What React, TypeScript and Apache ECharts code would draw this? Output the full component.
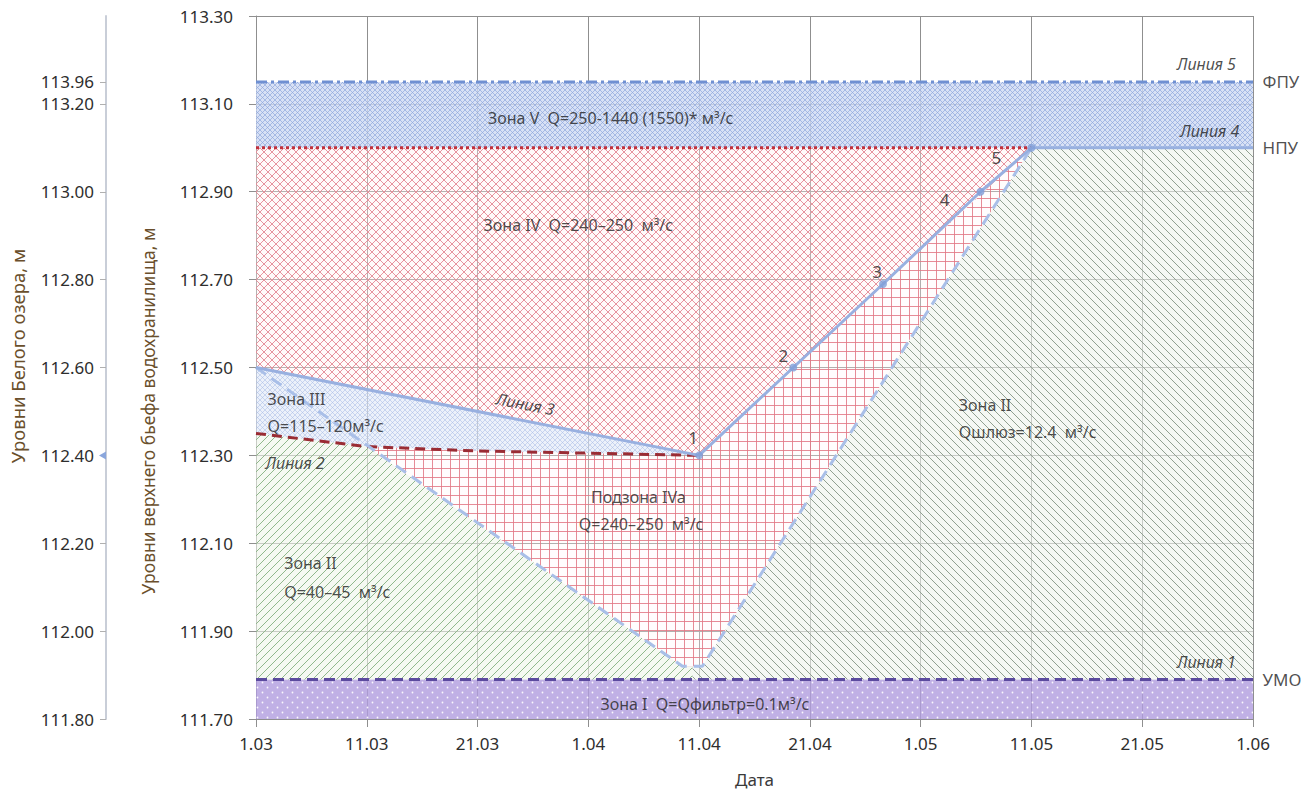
import React, { useEffect, useRef } from "react";
import * as echarts from "echarts";

// ---------- data ----------
const xLabels = ["1.03", "11.03", "21.03", "1.04", "11.04", "21.04", "1.05", "11.05", "21.05", "1.06"];
const yMainTicks = [111.7, 111.9, 112.1, 112.3, 112.5, 112.7, 112.9, 113.1, 113.3];
const yLeftTicks = [111.8, 112.0, 112.2, 112.4, 112.6, 112.8, 113.0, 113.2];
const yLeftExtraValue = 113.25;
const yLeftExtraLabel = "113.96";
const leftMarkerLevel = 112.4;

const umoLevel = 111.79;
const npuLevel = 113.0;
const fpuLevel = 113.15;

const line1 = [[0, umoLevel], [9, umoLevel]];
const line2 = [[0, 112.35], [1, 112.32], [2, 112.31], [4, 112.3]];
const line3 = [[0, 112.5], [4, 112.3]];
const dispatchPoints = [[4, 112.3], [4.85, 112.5], [5.66, 112.69], [6.54, 112.9], [7, 113.0]];
const pointNames = ["1", "2", "3", "4", "5"];
const line4 = [[7, npuLevel], [9, npuLevel]];
const zoneIVTop = [[0, npuLevel], [7, npuLevel]];
const line5 = [[0, fpuLevel], [9, fpuLevel]];
const boundaryV = [[0, 112.5], [3.85, 111.82], [4.03, 111.82], [7, 113.0]];

const zoneI = [[0, 111.7], [9, 111.7], [9, umoLevel], [0, umoLevel]];
const zoneV = [[0, npuLevel], [9, npuLevel], [9, fpuLevel], [0, fpuLevel]];
const zoneIV = [[0, 112.5], [4, 112.3], [7, 113.0], [0, 113.0]];
const zoneIII = [[0, 112.5], [4, 112.3], [2, 112.31], [1, 112.32], [0, 112.35]];
const zoneIVa = [[1, 112.32], [2, 112.31], [4, 112.3], [7, 113.0], [4.03, 111.82], [3.85, 111.82]];
const zoneIIleft = [[0, umoLevel], [0, 112.35], [1, 112.32], [3.85, 111.82], [3.94, 111.82], [3.94, umoLevel]];
const zoneIIright = [[3.94, umoLevel], [3.94, 111.82], [4.03, 111.82], [7, 113.0], [9, 113.0], [9, umoLevel]];

const zoneTexts: [string, number, number][] = [
  ["Зона V  Q=250-1440 (1550)* м³/с", 2.09, 113.068],
  ["Зона IV  Q=240–250  м³/с", 2.05, 112.824],
  ["Зона III", 0.1, 112.428],
  ["Q=115–120м³/с", 0.1, 112.367],
  ["Подзона IVa", 3.02, 112.205],
  ["Q=240–250  м³/с", 2.91, 112.144],
  ["Зона II", 0.25, 112.055],
  ["Q=40–45  м³/с", 0.25, 111.989],
  ["Зона II", 6.34, 112.415],
  ["Qшлюз=12.4  м³/с", 6.34, 112.353],
  ["Зона I  Q=Qфильтр=0.1м³/с", 3.105, 111.734],
];
const lineTextsRight: [string, number, number][] = [
  ["Линия 1", 8.85, 111.83],
  ["Линия 4", 8.88, 113.038],
  ["Линия 5", 8.85, 113.19],
];
const lineTextsLeft: [string, number, number][] = [["Линия 2", 0.08, 112.283]];
const lineTextRotated: [string, number, number] = ["Линия 3", 2.43, 112.417];
const levelTexts: [string, number][] = [["УМО", umoLevel], ["НПУ", npuLevel], ["ФПУ", fpuLevel]];

// ---------- styles ----------
const FONT = "'Noto Sans', 'DejaVu Sans', sans-serif";
const TXT = "#1f1f1f";
const pointLabelOffsets = [[-6, -18], [-10, -12], [-6, -13], [-36, 8], [-35, 10]];

function makePattern(size: number, bg: string, draw: (ctx: CanvasRenderingContext2D, s: number) => void) {
  const c = document.createElement("canvas");
  c.width = size;
  c.height = size;
  const ctx = c.getContext("2d")!;
  ctx.fillStyle = bg;
  ctx.fillRect(0, 0, size, size);
  draw(ctx, size);
  return { image: c, repeat: "repeat" };
}
function slash(ctx: CanvasRenderingContext2D, s: number, color: string, w: number) {
  ctx.strokeStyle = color;
  ctx.lineWidth = w;
  ctx.beginPath();
  ctx.moveTo(-1, s + 1); ctx.lineTo(s + 1, -1);
  ctx.moveTo(-1, 1); ctx.lineTo(1, -1);
  ctx.moveTo(s - 1, s + 1); ctx.lineTo(s + 1, s - 1);
  ctx.stroke();
}
function backslash(ctx: CanvasRenderingContext2D, s: number, color: string, w: number) {
  ctx.strokeStyle = color;
  ctx.lineWidth = w;
  ctx.beginPath();
  ctx.moveTo(-1, -1); ctx.lineTo(s + 1, s + 1);
  ctx.moveTo(s - 1, -1); ctx.lineTo(s + 1, 1);
  ctx.moveTo(-1, s - 1); ctx.lineTo(1, s + 1);
  ctx.stroke();
}

export default function App() {
  const ref = useRef<HTMLDivElement>(null);
  useEffect(() => {
    document.body.style.margin = "0";
    const chart = echarts.init(ref.current!, null, { renderer: "svg" });

    const patV = makePattern(5, "rgba(206,218,242,0.8)", (c, s) => {
      slash(c, s, "rgba(140,164,220,0.85)", 0.8);
      backslash(c, s, "rgba(140,164,220,0.85)", 0.8);
    });
    const patIII = makePattern(5, "rgba(226,233,248,0.65)", (c, s) => {
      slash(c, s, "rgba(165,185,228,0.75)", 0.7);
      backslash(c, s, "rgba(165,185,228,0.75)", 0.7);
    });
    const patIV = makePattern(8, "rgba(255,240,242,0.35)", (c, s) => {
      slash(c, s, "rgba(228,138,150,0.9)", 1);
      backslash(c, s, "rgba(228,138,150,0.9)", 1);
    });
    const patIVa = makePattern(9, "rgba(255,250,250,0.3)", (c, s) => {
      c.strokeStyle = "rgba(226,120,133,0.85)";
      c.lineWidth = 1;
      c.beginPath();
      c.moveTo(0.5, 0); c.lineTo(0.5, s);
      c.moveTo(0, 0.5); c.lineTo(s, 0.5);
      c.stroke();
    });
    const patIIl = makePattern(8, "rgba(238,245,234,0.6)", (c, s) => slash(c, s, "rgba(140,180,136,0.95)", 1));
    const patIIr = makePattern(8, "rgba(238,243,237,0.6)", (c, s) => backslash(c, s, "rgba(140,156,140,0.95)", 1));
    const patI = makePattern(10, "rgba(176,156,222,0.8)", (c) => {
      c.fillStyle = "rgba(255,255,255,0.9)";
      c.beginPath(); c.arc(2.5, 2.5, 0.9, 0, Math.PI * 2); c.fill();
      c.beginPath(); c.arc(7.5, 7.5, 0.9, 0, Math.PI * 2); c.fill();
    });

    const poly = (name: string, pts: number[][], fill: any) => ({
      type: "custom",
      name,
      silent: true,
      z: 1,
      data: [pts[0]],
      renderItem: (_p: any, api: any) => ({
        type: "polygon",
        shape: { points: pts.map((p) => api.coord(p)) },
        style: { fill, stroke: "none" },
      }),
    });
    const line = (name: string, data: number[][], color: string, type: any, width = 3, z = 3) => ({
      type: "line",
      name,
      data,
      symbol: "none",
      showSymbol: false,
      silent: true,
      z,
      lineStyle: { color, width, type, cap: "butt" },
    });
    const textStyleBase = { fontFamily: FONT, fontSize: 16, color: TXT };
    const hidden = { symbolSize: 1, itemStyle: { color: "rgba(0,0,0,0)" }, silent: true, clip: false, z: 6 };

    const option: any = {
      animation: false,
      backgroundColor: "#ffffff",
      textStyle: { fontFamily: FONT },
      grid: { left: 256, right: 58, top: 16, bottom: 84, containLabel: false, outerBoundsMode: "none" },
      xAxis: {
        type: "value",
        min: 0,
        max: 9,
        interval: 1,
        axisLine: { show: true, lineStyle: { color: "#8f8f8f" } },
        axisTick: { show: true, length: 8, lineStyle: { color: "#8f8f8f" } },
        axisLabel: { formatter: (v: number) => xLabels[Math.round(v)] ?? "", margin: 16, fontSize: 17, color: "#2e2e2e", fontFamily: FONT },
        splitLine: { show: true, lineStyle: { color: "#8f8f8f", width: 1 } },
        name: "Дата",
        nameLocation: "middle",
        nameGap: 52,
        nameTextStyle: { fontSize: 17, color: "#3a3a3a", fontFamily: FONT },
      },
      yAxis: [
        {
          type: "value",
          min: 111.7,
          max: 113.3,
          position: "left",
          axisLine: { show: true, lineStyle: { color: "#8f8f8f" } },
          axisTick: { show: true, length: 7, customValues: yMainTicks, lineStyle: { color: "#8f8f8f" } },
          axisLabel: { customValues: yMainTicks, formatter: (v: number) => v.toFixed(2), margin: 23, fontSize: 17, color: "#2e2e2e", fontFamily: FONT },
          splitLine: { show: true, lineStyle: { color: "#8f8f8f", width: 1 } },
        },
        {
          type: "value",
          min: 111.8,
          max: 113.4,
          position: "left",
          offset: 150,
          axisLine: { show: true, lineStyle: { color: "#c9ced8", width: 2 } },
          axisTick: { show: true, length: 6, customValues: [...yLeftTicks, yLeftExtraValue], lineStyle: { color: "#b0b0b0" } },
          axisLabel: {
            customValues: [...yLeftTicks, yLeftExtraValue],
            formatter: (v: number) => (Math.abs(v - yLeftExtraValue) < 1e-6 ? yLeftExtraLabel : v.toFixed(2)),
            margin: 12,
            fontSize: 17,
            color: "#2e2e2e",
            fontFamily: FONT,
          },
          splitLine: { show: false },
        },
      ],
      graphic: [
        {
          type: "text",
          x: 17,
          y: 356,
          rotation: Math.PI / 2,
          style: { text: "Уровни Белого озера, м", fontSize: 18.5, fontFamily: FONT, fill: "#6a4f2c", textAlign: "center", textVerticalAlign: "middle" },
        },
        {
          type: "text",
          x: 148,
          y: 411,
          rotation: Math.PI / 2,
          style: { text: "Уровни верхнего бьефа водохранилища, м", fontSize: 17.5, fontFamily: FONT, fill: "#6a4f2c", textAlign: "center", textVerticalAlign: "middle" },
        },
      ],
      series: [
        poly("Зона I", zoneI, patI),
        poly("Зона V", zoneV, patV),
        poly("Зона IV", zoneIV, patIV),
        poly("Зона III", zoneIII, patIII),
        poly("Подзона IVa", zoneIVa, patIVa),
        poly("Зона II (лев.)", zoneIIleft, patIIl),
        poly("Зона II (прав.)", zoneIIright, patIIr),
        line("Линия 1", line1, "#5b4a9e", [11, 6], 3),
        line("Линия 2", line2, "#9a2c34", [10, 6], 3),
        line("Граница зоны II", boundaryV, "#a9bfe8", [12, 7], 3),
        line("Линия 3", line3, "#98b0e0", "solid", 3, 4),
        line("Линия 1-5", dispatchPoints, "#98b0e0", "solid", 3, 4),
        line("Линия 4", line4, "#98b0e0", "solid", 3, 4),
        line("Граница зоны IV", zoneIVTop, "#c0303c", [3, 3], 3),
        line("Линия 5", line5, "#6f90d2", [11, 4, 3, 4], 3),
        {
          type: "scatter",
          name: "Точки",
          silent: true,
          z: 5,
          symbolSize: 8,
          itemStyle: { color: "#819fd8" },
          data: dispatchPoints.map((p, i) => ({ value: p, name: pointNames[i], label: { offset: pointLabelOffsets[i] } })),
          label: { show: true, position: "inside", formatter: "{b}", fontSize: 17, color: "#222", fontFamily: FONT },
        },
        {
          type: "scatter",
          name: "Подписи зон",
          ...hidden,
          data: zoneTexts.map(([t, x, y]) => ({ value: [x, y], name: t })),
          label: { show: true, position: "right", distance: 0, formatter: "{b}", ...textStyleBase },
        },
        {
          type: "scatter",
          name: "Подписи линий (справа)",
          ...hidden,
          data: lineTextsRight.map(([t, x, y]) => ({ value: [x, y], name: t })),
          label: { show: true, position: "left", distance: 0, formatter: "{b}", fontStyle: "italic", ...textStyleBase },
        },
        {
          type: "scatter",
          name: "Подписи линий (слева)",
          ...hidden,
          data: lineTextsLeft.map(([t, x, y]) => ({ value: [x, y], name: t })),
          label: { show: true, position: "right", distance: 0, formatter: "{b}", fontStyle: "italic", ...textStyleBase },
        },
        {
          type: "scatter",
          name: "Линия 3 подпись",
          ...hidden,
          data: [{ value: [lineTextRotated[1], lineTextRotated[2]], name: lineTextRotated[0] }],
          label: { show: true, position: "inside", rotate: -11, formatter: "{b}", fontStyle: "italic", ...textStyleBase },
        },
        {
          type: "scatter",
          name: "Уровни",
          ...hidden,
          data: levelTexts.map(([t, y]) => ({ value: [9, y], name: t })),
          label: { show: true, position: "right", distance: 9, formatter: "{b}", fontFamily: FONT, fontSize: 17, color: TXT },
        },
      ],
    };
    chart.setOption(option);

    const py = chart.convertToPixel({ yAxisIndex: 1 }, leftMarkerLevel) as number;
    const axisX = 256 - 150;
    chart.setOption({
      graphic: [
        ...option.graphic,
        {
          type: "polygon",
          shape: { points: [[axisX - 7, py], [axisX, py - 4], [axisX, py + 4]] },
          style: { fill: "#8aa6dc" },
          z: 10,
        },
      ],
    });

    return () => chart.dispose();
  }, []);
  return <div ref={ref} style={{ position: "absolute", left: 0, top: 0, width: 1311, height: 803 }} />;
}
